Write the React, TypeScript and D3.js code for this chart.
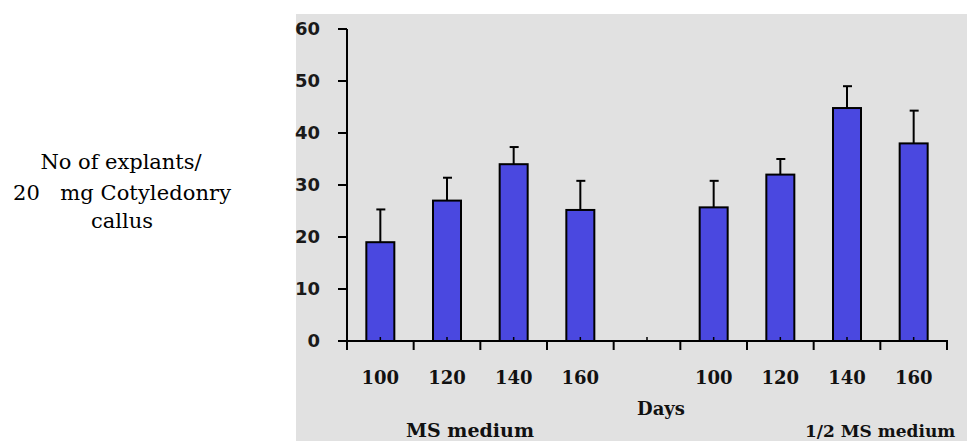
import React from 'react';
import * as d3 from 'd3';

const categories = ['a100', 'a120', 'a140', 'a160', 'gap', 'b100', 'b120', 'b140', 'b160'];
const tickLabels = ['100', '120', '140', '160', '', '100', '120', '140', '160'];
const means = [19, 27, 34, 25.2, null, 25.7, 32, 44.8, 38];
const errors = [6.3, 4.4, 3.3, 5.6, null, 5.1, 3, 4.2, 6.3];
const yTicks = [0, 10, 20, 30, 40, 50, 60];

const W = 967;
const H = 441;

const serif = 'DejaVu Serif, Liberation Serif, serif';
const sans = 'DejaVu Sans, Tahoma, Verdana, sans-serif';

const App = () => {
    const x = d3.scaleBand<string>().domain(categories).range([347, 947]).paddingInner(0.58).paddingOuter(0.29);
    const step = x.step();
    const y = d3.scaleLinear().domain([0, 60]).range([341, 29]);
    const bandEdges = d3.range(categories.length + 1).map(i => 347 + i * step);

    return (
        <svg width={W} height={H} style={{ position: 'absolute', left: 0, top: 0 }}>
            <rect x={296} y={14} width={W - 296} height={H - 14} fill="#e1e1e1" />

            {/* left label */}
            <g style={{ fontFamily: serif }} fontSize={21} textAnchor="middle" fill="#000">
                <text x={121} y={169} textLength={161}>No of explants/</text>
                <text x={122} y={200} xmlSpace="preserve" textLength={218}>20   mg Cotyledonry</text>
                <text x={122} y={228}>callus</text>
            </g>

            {/* bars */}
            {categories.map((c, i) => {
                const v = means[i];
                if (v == null) return null;
                const e = errors[i] as number;
                const cx = (x(c) as number) + x.bandwidth() / 2;
                return (
                    <g key={c}>
                        <line x1={cx} x2={cx} y1={y(v)} y2={y(v + e)} stroke="#000" strokeWidth={2} />
                        <line x1={cx - 4} x2={cx + 5} y1={y(v + e)} y2={y(v + e)} stroke="#000" strokeWidth={2} />
                        <rect x={x(c)} y={y(v)} width={x.bandwidth()} height={y(0) - y(v)}
                            fill="#4a48e0" stroke="#000" strokeWidth={2} />
                    </g>
                );
            })}

            {/* y axis */}
            <line x1={347} x2={347} y1={29} y2={342} stroke="#000" strokeWidth={2} />
            {yTicks.map(t => (
                <g key={t}>
                    <line x1={338} x2={347} y1={y(t)} y2={y(t)} stroke="#000" strokeWidth={2} />
                    <text x={320} y={y(t) + 6} textAnchor="end" style={{ fontFamily: sans }} fontWeight="bold" fontSize={18} fill="#1a1a1a">{t}</text>
                </g>
            ))}

            {/* x axis */}
            <line x1={338} x2={948} y1={y(0)} y2={y(0)} stroke="#000" strokeWidth={2} />
            {bandEdges.map((bx, i) => (
                <line key={i} x1={bx} x2={bx} y1={y(0)} y2={y(0) + 9} stroke="#000" strokeWidth={2} />
            ))}
            {categories.map((c, i) => {
                const cx = (x(c) as number) + x.bandwidth() / 2;
                return (
                    <g key={c}>
                        <line x1={cx} x2={cx} y1={y(0) - 4} y2={y(0)} stroke="#000" strokeWidth={1.5} />
                        <text x={cx} y={384} textAnchor="middle" style={{ fontFamily: serif }} fontWeight="bold" fontSize={18} fill="#111">{tickLabels[i]}</text>
                    </g>
                );
            })}

            <text x={661} y={415} textAnchor="middle" style={{ fontFamily: serif }} fontWeight="bold" fontSize={18} fill="#111">Days</text>
            <text x={470} y={437} textAnchor="middle" style={{ fontFamily: serif }} fontWeight="bold" fontSize={19} fill="#111">MS medium</text>
            <text x={805} y={437} style={{ fontFamily: serif }} fontWeight="bold" fontSize={17} fill="#111">1/2 MS medium</text>
        </svg>
    );
};

export default App;
